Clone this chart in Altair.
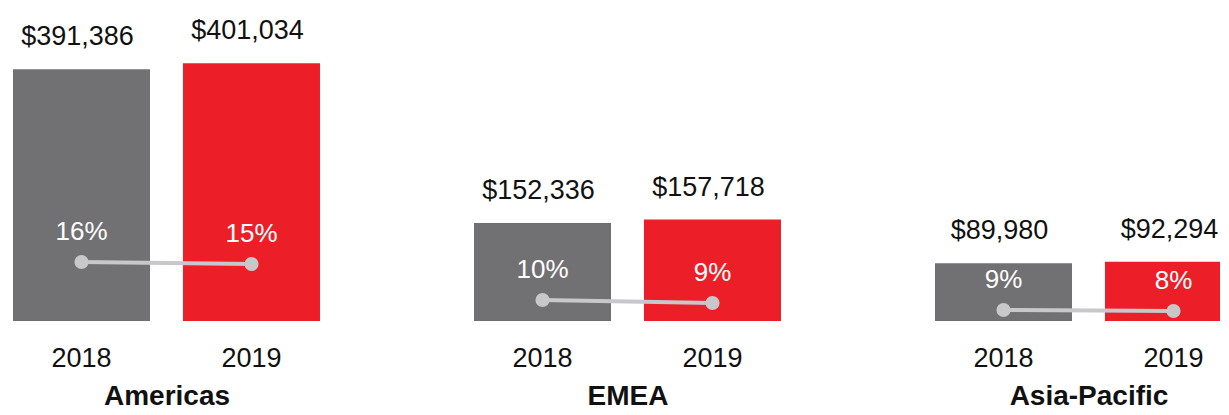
import altair as alt
import pandas as pd

regions = ["Americas", "EMEA", "Asia-Pacific"]
years = ["2018", "2019"]
revenue = {
    "Americas": [391386, 401034],
    "EMEA": [152336, 157718],
    "Asia-Pacific": [89980, 92294],
}
margin_labels = {
    "Americas": ["16%", "15%"],
    "EMEA": ["10%", "9%"],
    "Asia-Pacific": ["9%", "8%"],
}
# height of the margin marker in revenue units
marker_level = {
    "Americas": [91800, 88600],
    "EMEA": [32700, 28000],
    "Asia-Pacific": [17100, 15600],
}

rows = []
for r in regions:
    for i, y in enumerate(years):
        rows.append({
            "region": r,
            "year": y,
            "value": revenue[r][i],
            "label": "${:,}".format(revenue[r][i]),
            "pct": margin_labels[r][i],
            "marker": marker_level[r][i],
        })
df = pd.DataFrame(rows)

FONT = "Liberation Sans"
GRAY = "#717073"
RED = "#EC1F28"
DOT = "#C8C8CA"

yscale = alt.Scale(domain=[0, 479000], nice=False, zero=True)
color = alt.Color("year:N", scale=alt.Scale(domain=years, range=[GRAY, RED]), legend=None)

PANEL_W = 307


def panel(region):
    base = alt.Chart(df).transform_filter(alt.datum.region == region)
    x = alt.X(
        "year:N",
        sort=years,
        scale=alt.Scale(paddingInner=0.194, paddingOuter=0),
        axis=alt.Axis(
            title=region,
            labelAngle=0,
            labelFont=FONT,
            labelFontSize=27,
            labelColor="#111111",
            labelPadding=24,
            ticks=False,
            tickSize=0,
            domain=False,
            grid=False,
            titleFont=FONT,
            titleFontSize=28,
            titleFontWeight="bold",
            titleColor="#111111",
            titlePadding=11,
        ),
    )
    y = lambda f: alt.Y(f, scale=yscale, axis=None)
    bars = base.mark_bar(size=137).encode(x=x, y=y("value:Q"), color=color)
    vals = base.mark_text(font=FONT, fontSize=27, color="#111111", baseline="alphabetic", dy=-24, dx=-4).encode(
        x=x, y=y("value:Q"), text="label:N"
    )
    line = base.mark_line(color=DOT, strokeWidth=4).encode(x=x, y=y("marker:Q"))
    pts = base.mark_circle(color=DOT, size=200, opacity=1).encode(x=x, y=y("marker:Q"))
    pct = base.mark_text(font=FONT, fontSize=26, color="white", baseline="middle", dy=-30).encode(
        x=x, y=y("marker:Q"), text="pct:N"
    )
    return alt.layer(bars, vals, line, pts, pct).properties(width=PANEL_W, height=308)


chart = alt.hconcat(
    *[panel(r) for r in regions],
    spacing=154,
).properties(
    padding={"left": 5, "top": 5, "right": -22, "bottom": -4}
).configure(
    background="white"
).configure_view(stroke=None)

chart.save("out.html", embed_options={"renderer": "svg", "actions": False})
